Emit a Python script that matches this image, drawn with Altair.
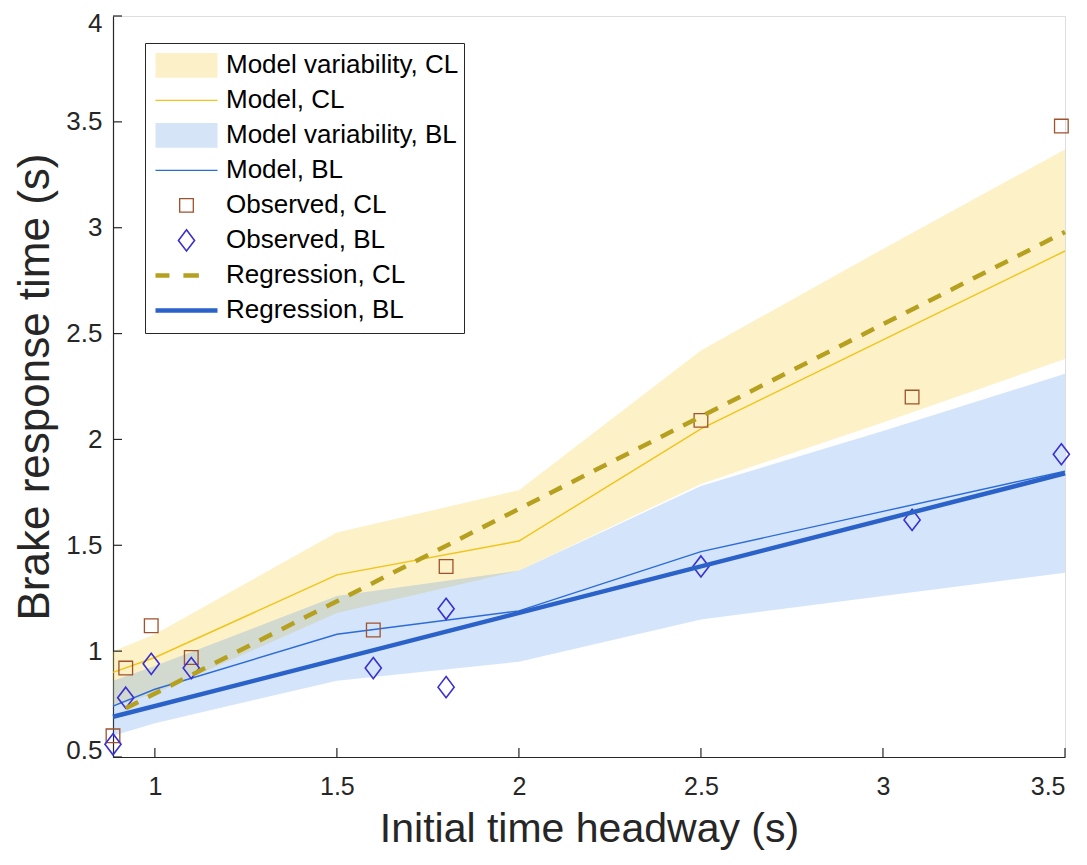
import altair as alt
import pandas as pd

# ---------------- data ----------------
model_x = [0.885, 1.0, 1.5, 2.0, 2.5, 3.0, 3.5]
model_cl = [0.90, 0.97, 1.36, 1.52, 2.05, 2.47, 2.89]
model_cl_hi = [1.00, 1.08, 1.56, 1.76, 2.42, 2.90, 3.37]
model_cl_lo = [0.74, 0.80, 1.18, 1.38, 1.79, 2.08, 2.38]
model_bl = [0.74, 0.82, 1.08, 1.19, 1.47, 1.66, 1.85]
model_bl_hi = [0.86, 0.93, 1.26, 1.38, 1.78, 2.04, 2.31]
model_bl_lo = [0.60, 0.66, 0.86, 0.95, 1.15, 1.26, 1.37]

obs_cl_x = [0.885, 0.92, 0.99, 1.10, 1.60, 1.80, 2.50, 3.08, 3.49]
obs_cl_y = [0.60, 0.92, 1.12, 0.97, 1.10, 1.40, 2.09, 2.20, 3.48]
obs_bl_x = [0.885, 0.92, 0.99, 1.10, 1.60, 1.80, 1.80, 2.50, 3.08, 3.49]
obs_bl_y = [0.56, 0.78, 0.94, 0.92, 0.92, 0.83, 1.20, 1.40, 1.62, 1.93]

reg_cl_x = [0.92, 3.50]
reg_cl_y = [0.73, 2.98]
reg_bl_x = [0.885, 3.50]
reg_bl_y = [0.69, 1.84]

x_ticks = [1.0, 1.5, 2.0, 2.5, 3.0, 3.5]
y_ticks = [0.5, 1.0, 1.5, 2.0, 2.5, 3.0, 3.5, 4.0]

series_names = ["Model variability, CL", "Model, CL", "Model variability, BL", "Model, BL",
                "Observed, CL", "Observed, BL", "Regression, CL", "Regression, BL"]

# ---------------- styling ----------------
FONT = "Liberation Sans"
TXT = "#262626"
W, H = 952, 741
XDOM = [0.885, 3.5]
YDOM = [0.5, 4.0]

cl_band = "#F7D046"
bl_band = "#3D85E6"
cl_line = "#F0C419"
bl_line = "#2B6BDA"
cl_obs = "#A0522D"
bl_obs = "#3A2FD0"
cl_reg = "#B5A020"
bl_reg = "#2A62C9"

model_df = pd.DataFrame({
    "x": model_x, "cl": model_cl, "cl_hi": model_cl_hi, "cl_lo": model_cl_lo,
    "bl": model_bl, "bl_hi": model_bl_hi, "bl_lo": model_bl_lo,
})
obs_df = pd.concat([
    pd.DataFrame({"x": obs_cl_x, "y": obs_cl_y, "series": "Observed, CL"}),
    pd.DataFrame({"x": obs_bl_x, "y": obs_bl_y, "series": "Observed, BL"}),
], ignore_index=True)
reg_cl_df = pd.DataFrame({"x": reg_cl_x, "y": reg_cl_y})
reg_bl_df = pd.DataFrame({"x": reg_bl_x, "y": reg_bl_y})
xt_df = pd.DataFrame({"v": x_ticks})
yt_df = pd.DataFrame({"v": y_ticks})

xs = alt.Scale(domain=XDOM, nice=False, zero=False)
ys = alt.Scale(domain=YDOM, nice=False, zero=False)

x_axis = alt.Axis(
    title="Initial time headway (s)", values=x_ticks, format="~g", grid=False,
    ticks=False, tickSize=0, domainColor=TXT, domainWidth=1.2,
    labelFont=FONT, labelFontSize=25, labelColor=TXT, labelPadding=17,
    titleFont=FONT, titleFontSize=41, titleFontWeight="normal", titleColor=TXT,
    titlePadding=10,
)
y_axis = alt.Axis(
    title="Brake response time (s)", values=y_ticks, format="~g", grid=False,
    ticks=False, tickSize=0, domainColor=TXT, domainWidth=1.2,
    labelFont=FONT, labelFontSize=26, labelColor=TXT, labelPadding=11,
    labelFlush=True, labelFlushOffset=6,
    titleFont=FONT, titleFontSize=44, titleFontWeight="normal", titleColor=TXT,
    titlePadding=8,
)

base = alt.Chart(model_df)

band_cl = base.mark_area(color=cl_band, opacity=0.3).encode(
    x=alt.X("x:Q", scale=xs, axis=x_axis),
    y=alt.Y("cl_lo:Q", scale=ys, axis=y_axis),
    y2="cl_hi:Q",
)
line_cl = base.mark_line(color=cl_line, strokeWidth=1.4).encode(
    x=alt.X("x:Q", scale=xs), y=alt.Y("cl:Q", scale=ys))
band_bl = base.mark_area(color=bl_band, opacity=0.22).encode(
    x=alt.X("x:Q", scale=xs), y=alt.Y("bl_lo:Q", scale=ys), y2="bl_hi:Q")
line_bl = base.mark_line(color=bl_line, strokeWidth=1.4).encode(
    x=alt.X("x:Q", scale=xs), y=alt.Y("bl:Q", scale=ys))

# symbol paths (unit box -1..1 maps to 62 px)
P_RECT = "M-1,-0.4H1V0.4H-1Z"
P_LINE = "M-1,0H1"
P_SQ = "M-0.22,-0.22H0.22V0.22H-0.22Z"
P_DIA = "M0,-0.34L0.26,0L0,0.34L-0.26,0Z"
P_DASH = "M-1,0H-0.55M-0.1,0H0.4"

legend = alt.Legend(
    title=None, orient="none", legendX=32, legendY=27,
    labelFont=FONT, labelFontSize=26, labelColor="#000000", labelLimit=500,
    symbolSize=3844, clipHeight=34.8, rowPadding=0, padding=5,
    symbolOffset=3, labelOffset=6, strokeColor=TXT, fillColor="white",
    symbolOpacity=1,
)

obs = alt.Chart(obs_df).mark_point(filled=True, opacity=1, size=3844).encode(
    x=alt.X("x:Q", scale=xs),
    y=alt.Y("y:Q", scale=ys),
    shape=alt.Shape("series:N", legend=legend, scale=alt.Scale(
        domain=series_names, range=[P_RECT, P_LINE, P_RECT, P_LINE, P_SQ, P_DIA, P_DASH, P_LINE])),
    fill=alt.Fill("series:N", legend=legend, scale=alt.Scale(
        domain=series_names,
        range=["#FCF0C8", "transparent", "#D6E4F8", "transparent",
               "transparent", "transparent", "transparent", "transparent"])),
    stroke=alt.Stroke("series:N", legend=legend, scale=alt.Scale(
        domain=series_names,
        range=["transparent", cl_line, "transparent", bl_line, cl_obs, bl_obs, cl_reg, bl_reg])),
    strokeWidth=alt.StrokeWidth("series:N", legend=legend, scale=alt.Scale(
        type="ordinal", domain=series_names, range=[0, 1.4, 0, 1.4, 1.3, 1.6, 4.5, 4.5])),
)

reg_cl = alt.Chart(reg_cl_df).mark_line(color=cl_reg, strokeWidth=4.5, strokeDash=[14, 11]).encode(
    x=alt.X("x:Q", scale=xs), y=alt.Y("y:Q", scale=ys))
reg_bl = alt.Chart(reg_bl_df).mark_line(color=bl_reg, strokeWidth=4.5).encode(
    x=alt.X("x:Q", scale=xs), y=alt.Y("y:Q", scale=ys))

xtick = alt.Chart(xt_df).mark_rule(color=TXT, strokeWidth=1.2).encode(
    x=alt.X("v:Q", scale=xs), y=alt.value(H), y2=alt.value(H - 9))
ytick = alt.Chart(yt_df).mark_rule(color=TXT, strokeWidth=1.2).encode(
    y=alt.Y("v:Q", scale=ys), x=alt.value(0), x2=alt.value(9))

chart = alt.layer(
    band_cl, line_cl, band_bl, line_bl, obs, reg_cl, reg_bl, xtick, ytick
).properties(
    width=W, height=H,
    autosize=alt.AutoSizeParams(type="none"),
    padding={"left": 105, "top": 8, "right": 14, "bottom": 100},
).configure_view(stroke=None).configure(background="white")

chart.save("out.html", embed_options={"renderer": "svg", "actions": False})
